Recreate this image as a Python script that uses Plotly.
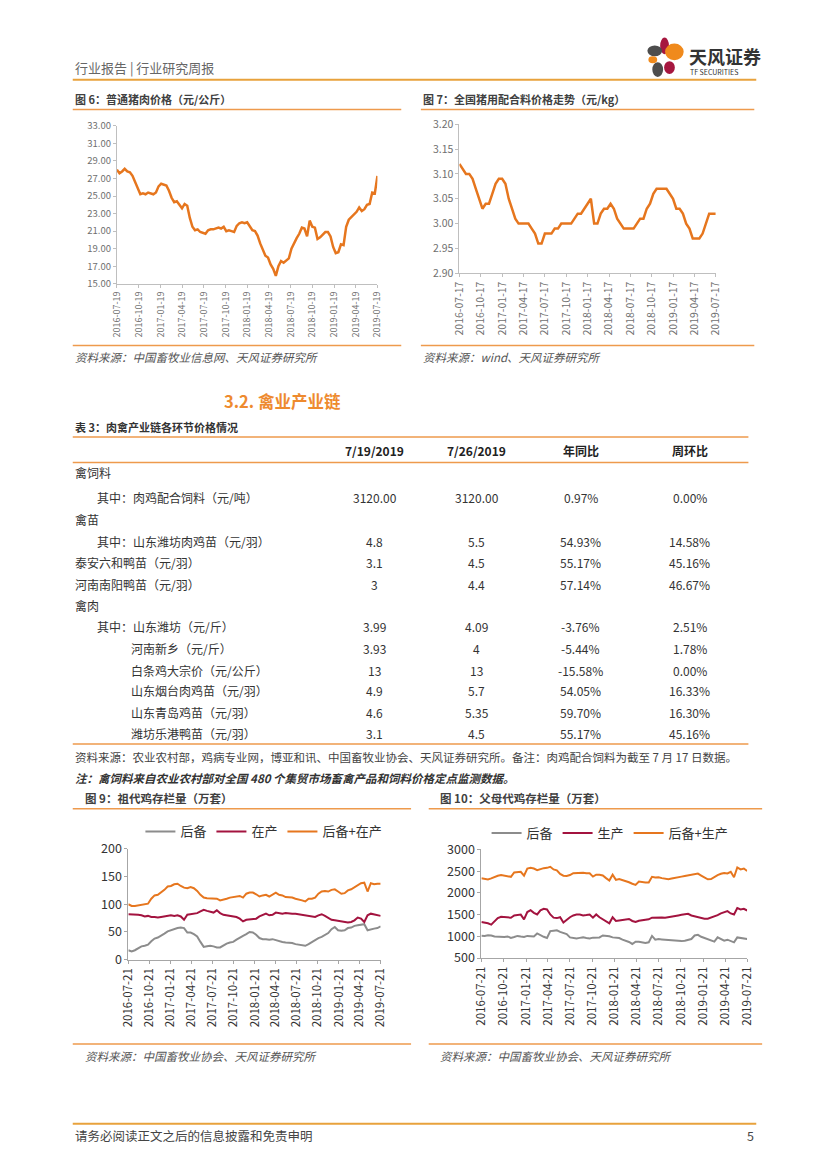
import plotly.graph_objects as go
import pandas as pd

# ---------------- data ----------------
pork_ticks = ['2016-07-19', '2016-10-19', '2017-01-19', '2017-04-19', '2017-07-19', '2017-10-19',
              '2018-01-19', '2018-04-19', '2018-07-19', '2018-10-19', '2019-01-19', '2019-04-19', '2019-07-19']
pork_price = [28.0, 27.6, 27.8, 28.1, 27.8, 27.7, 27.3, 26.6, 25.9, 25.2, 25.3, 25.2, 25.4, 25.3, 25.2, 25.4,
              26.1, 26.4, 26.3, 26.2, 25.6, 24.8, 24.3, 24.4, 24.0, 23.6, 24.1, 23.9, 22.5, 21.5, 21.1, 21.2,
              20.9, 20.8, 20.7, 21.1, 21.2, 21.2, 21.3, 21.4, 21.3, 21.5, 21.0, 21.1, 21.0, 20.9, 21.6, 21.9,
              22.0, 21.9, 22.0, 21.6, 21.1, 21.0, 20.5, 19.6, 18.8, 18.2, 18.0, 17.2, 16.7, 15.9, 17.0, 17.6,
              17.4, 17.6, 17.9, 19.0, 19.7, 20.2, 20.7, 21.4, 21.3, 20.4, 22.2, 21.5, 21.4, 20.1, 20.3, 20.6,
              20.9, 20.9, 20.4, 19.2, 18.5, 18.6, 19.5, 19.4, 21.5, 22.3, 22.6, 22.9, 23.2, 23.7, 23.3, 23.5,
              24.0, 24.1, 25.4, 25.3, 27.3]

feed_ticks = ['2016-07-17', '2016-10-17', '2017-01-17', '2017-04-17', '2017-07-17', '2017-10-17',
              '2018-01-17', '2018-04-17', '2018-07-17', '2018-10-17', '2019-01-17', '2019-04-17', '2019-07-17']
feed_price = [3.12, 3.11, 3.10, 3.10, 3.09, 3.07, 3.05, 3.03, 3.04, 3.04,
              3.06, 3.08, 3.09, 3.09, 3.08, 3.05, 3.03, 3.01, 3.00, 3.00,
              3.00, 3.00, 2.99, 2.98, 2.96, 2.96, 2.98, 2.98, 2.98, 2.99,
              2.99, 3.00, 3.00, 3.00, 3.00, 3.01, 3.02, 3.02, 3.03, 3.04,
              3.05, 3.00, 3.00, 3.02, 3.03, 3.03, 3.04, 3.03, 3.01, 3.00,
              2.99, 2.99, 2.99, 2.99, 3.00, 3.01, 3.01, 3.03, 3.04, 3.06,
              3.07, 3.07, 3.07, 3.07, 3.06, 3.05, 3.03, 3.03, 3.02, 3.00,
              2.99, 2.97, 2.97, 2.97, 2.98, 3.00, 3.02, 3.02, 3.02]

chick_ticks = ['2016-07-21', '2016-10-21', '2017-01-21', '2017-04-21', '2017-07-21', '2017-10-21',
               '2018-01-21', '2018-04-21', '2018-07-21', '2018-10-21', '2019-01-21', '2019-04-21', '2019-07-21']

gp_names = ['后备', '在产', '后备+在产']
gp_reserve = [17, 15, 17, 21, 24, 25, 27, 33, 38, 40, 43, 47, 51, 53, 56, 57, 58, 57, 49, 49,
              46, 42, 32, 23, 24, 25, 24, 22, 22, 26, 29, 31, 32, 36, 40, 43, 46, 50, 49, 45,
              39, 37, 37, 36, 37, 35, 33, 32, 31, 31, 30, 28, 27, 26, 25, 28, 32, 35, 39, 41,
              45, 48, 55, 59, 53, 52, 53, 57, 58, 61, 62, 63, 64, 53, 55, 56, 57, 60]
gp_prod = [82, 82, 82, 81, 80, 78, 79, 77, 77, 76, 77, 78, 80, 80, 79, 80, 78, 72, 81, 82,
           84, 84, 87, 90, 88, 87, 85, 89, 84, 81, 80, 80, 79, 77, 74, 69, 72, 73, 74, 74,
           78, 80, 83, 80, 81, 85, 84, 83, 84, 83, 83, 83, 82, 81, 80, 80, 78, 77, 80, 82,
           79, 76, 72, 71, 70, 69, 67, 67, 68, 71, 76, 74, 68, 80, 83, 82, 80, 79]
gp_total = [100, 97, 97, 98, 99, 99, 101, 110, 116, 117, 121, 126, 132, 133, 136, 137, 133, 130, 129, 131,
            129, 124, 117, 112, 111, 111, 111, 110, 107, 108, 110, 112, 113, 115, 115, 112, 119, 121, 121, 118,
            114, 116, 117, 114, 117, 121, 117, 116, 113, 113, 112, 110, 109, 107, 105, 110, 110, 112, 119, 123,
            124, 123, 126, 127, 123, 119, 120, 125, 127, 131, 135, 138, 139, 123, 138, 136, 137, 137]

pp_names = ['后备', '生产', '后备+生产']
pp_reserve = [1014, 1010, 1025, 1020, 995, 990, 976, 985, 998, 965, 985, 1010, 995, 985, 1010, 1000, 998, 1066, 1020, 990,
              961, 1120, 1130, 1140, 1104, 1080, 1051, 976, 960, 953, 965, 976, 960, 953, 970, 976, 976, 1020, 1014, 1000,
              976, 976, 960, 923, 905, 870, 825, 878, 878, 870, 847, 862, 1010, 923, 938, 930, 923, 920, 900, 895,
              885, 890, 900, 915, 938, 1020, 1036, 991, 960, 938, 900, 878, 976, 930, 900, 923, 900, 862, 976, 960,
              953, 938]
pp_prod = [1331, 1320, 1300, 1270, 1340, 1420, 1452, 1448, 1440, 1429, 1480, 1489, 1500, 1390, 1560, 1603, 1542, 1504, 1600, 1633,
           1618, 1504, 1430, 1420, 1440, 1316, 1380, 1440, 1482, 1500, 1500, 1482, 1490, 1500, 1429, 1504, 1440, 1390, 1331, 1301,
           1440, 1354, 1365, 1376, 1395, 1400, 1354, 1331, 1360, 1376, 1385, 1391, 1429, 1435, 1444, 1435, 1429, 1440, 1444, 1470,
           1482, 1495, 1504, 1520, 1480, 1460, 1444, 1420, 1406, 1406, 1430, 1460, 1489, 1530, 1557, 1580, 1527, 1504, 1650, 1618,
           1633, 1595]
pp_total = [2335, 2315, 2310, 2335, 2370, 2395, 2410, 2400, 2385, 2370, 2470, 2486, 2486, 2395, 2560, 2577, 2560, 2525, 2555, 2570,
            2577, 2600, 2540, 2520, 2435, 2395, 2390, 2410, 2455, 2460, 2450, 2465, 2450, 2450, 2375, 2420, 2420, 2400, 2340, 2285,
            2420, 2300, 2320, 2300, 2280, 2245, 2210, 2185, 2260, 2240, 2237, 2240, 2370, 2355, 2358, 2340, 2330, 2313, 2330, 2340,
            2365, 2375, 2388, 2405, 2415, 2433, 2445, 2400, 2350, 2313, 2320, 2370, 2411, 2440, 2460, 2449, 2486, 2360, 2585, 2540,
            2562, 2505]

table_header = ['7/19/2019', '7/26/2019', '年同比', '周环比']
row_labels = ['禽饲料', '其中：肉鸡配合饲料（元/吨）', '禽苗', '其中：山东潍坊肉鸡苗（元/羽）', '泰安六和鸭苗（元/羽）',
              '河南南阳鸭苗（元/羽）', '禽肉', '其中：山东潍坊（元/斤）', '河南新乡（元/斤）', '白条鸡大宗价（元/公斤）',
              '山东烟台肉鸡苗（元/羽）', '山东青岛鸡苗（元/羽）', '潍坊乐港鸭苗（元/羽）']
val_0719 = ['', '3120.00', '', '4.8', '3.1', '3', '', '3.99', '3.93', '13', '4.9', '4.6', '3.1']
val_0726 = ['', '3120.00', '', '5.5', '4.5', '4.4', '', '4.09', '4', '13', '5.7', '5.35', '4.5']
val_yoy = ['', '0.97%', '', '54.93%', '55.17%', '57.14%', '', '-3.76%', '-5.44%', '-15.58%', '54.05%', '59.70%', '55.17%']
val_wow = ['', '0.00%', '', '14.58%', '45.16%', '46.67%', '', '2.51%', '1.78%', '0.00%', '16.33%', '16.30%', '45.16%']

# ---------------- layout helpers ----------------
W, H = 827, 1170
FONT = 'Noto Sans CJK SC, Noto Sans, sans-serif'
ORANGE = '#E6761E'
RULE = '#EE9A4D'
CRIMSON = '#A3133F'
GREY = '#8C8C8C'


def X(p):
    return p / W


def Y(p):
    return 1 - p / H


fig = go.Figure()


def text(px, py, s, size=12, color='#333333', bold=False, italic=False, anchor='left'):
    fig.add_annotation(x=X(px), y=Y(py), xref='paper', yref='paper', text=s, showarrow=False,
                       xanchor=anchor, yanchor='middle',
                       font=dict(size=size, color=color, family=FONT,
                                 weight='bold' if bold else 'normal',
                                 style='italic' if italic else 'normal'))


def hline(x0, x1, y, color=RULE, width=1.5):
    fig.add_shape(type='line', xref='paper', yref='paper', x0=X(x0), x1=X(x1), y0=Y(y), y1=Y(y),
                  line=dict(color=color, width=width))


def blob(x0, y0, x1, y1, color):
    fig.add_shape(type='circle', xref='paper', yref='paper', x0=X(x0), x1=X(x1), y0=Y(y0), y1=Y(y1),
                  fillcolor=color, line=dict(width=0))


# ---------------- traces ----------------
fig.add_trace(go.Scatter(x=pd.date_range(pork_ticks[0], pork_ticks[-1], periods=len(pork_price)), y=pork_price,
                         mode='lines', line=dict(color=ORANGE, width=2.5), xaxis='x', yaxis='y', showlegend=False))
fig.add_trace(go.Scatter(x=pd.date_range(feed_ticks[0], feed_ticks[-1], periods=len(feed_price)), y=feed_price,
                         mode='lines', line=dict(color=ORANGE, width=2.5), xaxis='x2', yaxis='y2', showlegend=False))

gx = pd.date_range(chick_ticks[0], chick_ticks[-1], periods=len(gp_reserve))
for name, vals, col in zip(gp_names, [gp_reserve, gp_prod, gp_total], [GREY, CRIMSON, ORANGE]):
    fig.add_trace(go.Scatter(x=gx, y=vals, name=name, mode='lines', line=dict(color=col, width=2),
                             xaxis='x3', yaxis='y3', legend='legend'))
px_ = pd.date_range(chick_ticks[0], chick_ticks[-1], periods=len(pp_reserve))
for name, vals, col in zip(pp_names, [pp_reserve, pp_prod, pp_total], [GREY, CRIMSON, ORANGE]):
    fig.add_trace(go.Scatter(x=px_, y=vals, name=name, mode='lines', line=dict(color=col, width=2),
                             xaxis='x4', yaxis='y4', legend='legend2'))

# ---------------- axes ----------------
small_ax = dict(showgrid=False, zeroline=False, showline=True, linecolor='#BFBFBF', linewidth=1,
                ticks='outside', ticklen=3, tickcolor='#BFBFBF')
big_ax = dict(showgrid=False, zeroline=False, showline=True, linecolor='#A6A6A6', linewidth=1,
              ticks='outside', ticklen=3, tickcolor='#A6A6A6')

fig.update_layout(
    xaxis=dict(domain=[X(110), X(375.7)], anchor='y', type='date', range=[pork_ticks[0], pork_ticks[-1]],
               tickvals=pork_ticks, ticktext=pork_ticks, tickangle=-90,
               tickfont=dict(size=9, color='#6F6F6F', family=FONT), **small_ax),
    yaxis=dict(domain=[Y(277.3), Y(116.7)], anchor='x', range=[15, 33], tick0=15, dtick=2, tickformat='.2f',
               tickfont=dict(size=9.5, color='#6F6F6F', family=FONT), **small_ax),
    xaxis2=dict(domain=[X(459.3), X(720.7)], anchor='y2', type='date', range=[feed_ticks[0], feed_ticks[-1]],
                tickvals=feed_ticks, ticktext=feed_ticks, tickangle=-90,
                tickfont=dict(size=10.5, color='#6F6F6F', family=FONT), **small_ax),
    yaxis2=dict(domain=[Y(266.7), Y(115)], anchor='x2', range=[2.90, 3.20], tick0=2.9, dtick=0.05, tickformat='.2f',
                tickfont=dict(size=10.5, color='#6F6F6F', family=FONT), **small_ax),
    xaxis3=dict(domain=[X(121.7), X(379)], anchor='y3', type='date', range=[chick_ticks[0], chick_ticks[-1]],
                tickvals=chick_ticks, ticktext=chick_ticks, tickangle=-90,
                tickfont=dict(size=11.5, color='#333333', family=FONT), **big_ax),
    yaxis3=dict(domain=[Y(964.3), Y(851.7)], anchor='x3', range=[0, 200], dtick=50,
                tickfont=dict(size=12.5, color='#333333', family=FONT), **big_ax),
    xaxis4=dict(domain=[X(481.7), X(752.7)], anchor='y4', type='date', range=[chick_ticks[0], chick_ticks[-1]],
                tickvals=chick_ticks, ticktext=chick_ticks, tickangle=-90,
                tickfont=dict(size=11.5, color='#333333', family=FONT), **big_ax),
    yaxis4=dict(domain=[Y(962.7), Y(852.3)], anchor='x4', range=[500, 3000], dtick=500,
                tickfont=dict(size=12.5, color='#333333', family=FONT), **big_ax),
    legend=dict(x=X(134), y=Y(834), xanchor='left', yanchor='middle', orientation='h',
                font=dict(size=13, color='#333333', family=FONT), bgcolor='rgba(0,0,0,0)', itemwidth=30),
    legend2=dict(x=X(487), y=Y(835.5), xanchor='left', yanchor='middle', orientation='h',
                 font=dict(size=13, color='#333333', family=FONT), bgcolor='rgba(0,0,0,0)', itemwidth=30),
    width=W, height=H, margin=dict(l=0, r=0, t=0, b=0),
    paper_bgcolor='white', plot_bgcolor='white', showlegend=True,
    font=dict(family=FONT, color='#333333'),
)

# ---------------- page decorations ----------------
# header
text(65, 57, '行业报告 | 行业研究周报', size=13, color='#666666')
hline(65, 762, 70, color='#E8A23C', width=2)
blob(664, 27, 673, 44, '#A6173F')
blob(651, 35, 666, 46, '#4D4D4D')
blob(669, 33, 688, 50, '#F08A1C')
blob(652, 46, 661, 53, '#F08A1C')
blob(656, 52, 667, 67, '#4D4D4D')
blob(668, 51, 679, 64, '#A6173F')
text(691, 46, '天风证券', size=18, color='#333333', bold=True)
text(692, 62, 'TF SECURITIES', size=7, color='#333333')

# figure 6 / 7 titles and rules
text(65, 89, '图 6：普通猪肉价格（元/公斤）', size=11, color='#404040', bold=True)
hline(65, 400, 100)
text(420, 89, '图 7：全国猪用配合料价格走势（元/kg）', size=11, color='#404040', bold=True)
hline(420, 760, 100)
hline(65, 400, 340)
hline(420, 760, 340)
text(65, 352, '资料来源：中国畜牧业信息网、天风证券研究所', size=11.5, color='#555555', italic=True)
text(420, 352, '资料来源：wind、天风证券研究所', size=11.5, color='#555555', italic=True)

# section heading
text(217, 396, '3.2. 禽业产业链', size=16.5, color='#EE8A2E', bold=True)
text(65, 423, '表 3：肉禽产业链各环节价格情况', size=11, color='#333333', bold=True)

# table
col_x = [373, 477, 583, 694]
hline(65, 754, 433)
hline(65, 754, 459)
for cx, h in zip(col_x, table_header):
    text(cx, 447, h, size=12, color='#222222', bold=True, anchor='center')
row_y = [469, 495, 517, 539, 561, 583, 604, 626, 648, 670, 691, 713, 734]
row_indent = [65, 88, 65, 88, 65, 65, 65, 88, 122, 122, 122, 122, 122]
for i, lab in enumerate(row_labels):
    text(row_indent[i], row_y[i], lab, size=12, color='#333333')
    for cx, col in zip(col_x, [val_0719, val_0726, val_yoy, val_wow]):
        if col[i]:
            text(cx, row_y[i], col[i], size=12, color='#333333', anchor='center')
hline(65, 754, 745)
text(65, 758, '资料来源：农业农村部，鸡病专业网，博亚和讯、中国畜牧业协会、天风证券研究所。备注：肉鸡配合饲料为截至 7 月 17 日数据。',
     size=11.5, color='#444444')
text(65, 780, '注：禽饲料来自农业农村部对全国 480 个集贸市场畜禽产品和饲料价格定点监测数据。',
     size=11.5, color='#333333', italic=True, bold=True)

# figure 9 / 10 titles and rules
text(75, 800, '图 9：祖代鸡存栏量（万套）', size=11.5, color='#404040', bold=True)
hline(65, 410, 811)
text(437, 800, '图 10：父母代鸡存栏量（万套）', size=11.5, color='#404040', bold=True)
hline(428, 768, 811)
hline(65, 410, 1050)
hline(428, 768, 1050)
text(75, 1062, '资料来源：中国畜牧业协会、天风证券研究所', size=11.5, color='#555555', italic=True)
text(437, 1062, '资料来源：中国畜牧业协会、天风证券研究所', size=11.5, color='#555555', italic=True)

# footer
hline(65, 762, 1131, color='#E8A23C', width=2)
text(65, 1143, '请务必阅读正文之后的信息披露和免责申明', size=12.5, color='#444444')
text(762, 1143, '5', size=12.5, color='#444444', anchor='right')

fig.write_html('out.html', config={'displayModeBar': False},
               post_script="document.body.style.margin='0';document.body.style.padding='0';"
                           "document.documentElement.style.overflow='hidden';"
                           "var d=document.getElementById('{plot_id}');d.style.position='fixed';"
                           "d.style.left='0px';d.style.top='0px';")
